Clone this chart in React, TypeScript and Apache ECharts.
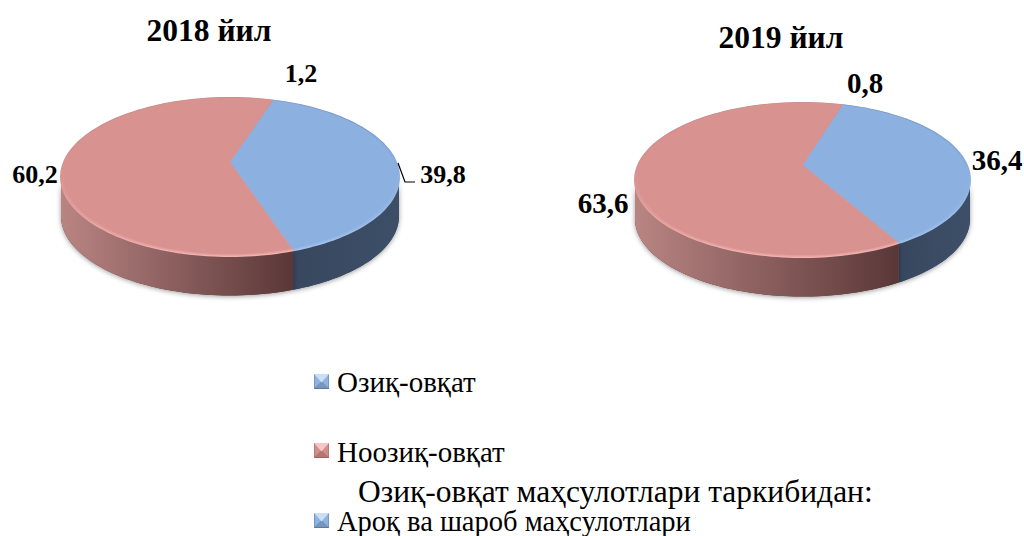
import React, { useEffect, useRef } from "react";
import * as echarts from "echarts";

const categories = ["Озиқ-овқат", "Ноозиқ-овқат", "Ароқ ва шароб маҳсулотлари"];
const values2018 = [39.8, 60.2, 1.2];
const values2019 = [36.4, 63.6, 0.8];
const titles = ["2018 йил", "2019 йил"];
const legendHeading = "Озиқ-овқат маҳсулотлари таркибидан:";

const SERIF = '"Liberation Serif", "Times New Roman", serif';

type Pie = {
  cx: number; cy: number; rx: number; ry: number; apexDy: number; depth: number; startDeg: number;
  labels: { x: number; y: number; size: number }[];
  leader?: number[][];
};

const pies: Pie[] = [
  {
    cx: 230, cy: 177, rx: 170, ry: 80, apexDy: -15, depth: 39, startDeg: 14.8,
    labels: [{ x: 443, y: 174, size: 26 }, { x: 35, y: 174, size: 26 }, { x: 301, y: 73, size: 26 }],
    leader: [[398, 163], [405, 182], [415, 182]],
  },
  {
    cx: 802.5, cy: 180, rx: 168.5, ry: 78, apexDy: -15, depth: 39, startDeg: 13.9,
    labels: [{ x: 997, y: 160, size: 29 }, { x: 603, y: 203, size: 29 }, { x: 865, y: 83, size: 29 }],
  },
];

const palette = [
  { top: "#8CB0E0", rimTop: "#6E8BB4", rimBottom: "#A9C6EE", side: ["#3D4F68", "#37475E"] },
  { top: "#D89391", rimTop: "#C48886", rimBottom: "#F4B2B1", side: ["#B98583", "#5A3737"] },
];

const rad = (d: number) => (d * Math.PI) / 180;

function arcPoints(p: Pie, a0: number, a1: number, inset = 0, dy = 0) {
  const pts: number[][] = [];
  const n = Math.max(2, Math.ceil(Math.abs(a1 - a0) / 2));
  for (let i = 0; i <= n; i++) {
    const a = rad(a0 + ((a1 - a0) * i) / n);
    pts.push([p.cx + (p.rx - inset) * Math.sin(a), p.cy + dy - (p.ry - inset * (p.ry / p.rx)) * Math.cos(a)]);
  }
  return pts;
}

function fmt(v: number) {
  return String(v).replace(".", ",");
}

function makeRenderItem(p: Pie, values: number[]) {
  return (params: any, api: any) => {
    const idx = params.dataIndex;
    const value = api.value(0);
    const children: any[] = [];
    const lab = p.labels[idx];

    if (idx < 2) {
      const total = values[0] + values[1];
      const before = idx === 0 ? 0 : values[0];
      const a0 = p.startDeg + (before / total) * 360;
      const a1 = a0 + (value / total) * 360;
      const apex = [p.cx, p.cy + p.apexDy];
      const col = palette[idx];

      const s0 = Math.max(a0, 90);
      const s1 = Math.min(a1, 270);
      if (s1 > s0) {
        const front = arcPoints(p, s0, s1, 1);
        const back = arcPoints(p, s0, s1, 1, p.depth).reverse();
        const xs = front.map((q) => q[0]);
        const minX = Math.min(...xs);
        const maxX = Math.max(...xs);
        children.push({
          type: "polygon",
          shape: { points: front.concat(back) },
          style: { fill: col.side[1], shadowBlur: 5, shadowColor: "rgba(0,0,0,0.4)", shadowOffsetY: 1 },
          silent: true,
        });
        children.push({
          type: "polygon",
          shape: { points: front.concat(back) },
          style: {
            fill: new echarts.graphic.LinearGradient(
              idx === 1 ? minX : maxX, 0, idx === 1 ? maxX : minX, 0,
              [{ offset: 0, color: col.side[0] }, { offset: 1, color: col.side[1] }],
              true
            ),
          },
          silent: true,
        });
      }

      const rim = new echarts.graphic.LinearGradient(
        0, p.cy - p.ry, 0, p.cy + p.ry,
        [{ offset: 0, color: col.rimTop }, { offset: 0.45, color: col.top }, { offset: 1, color: col.rimBottom }],
        true
      );
      children.push({
        type: "polygon",
        shape: { points: [apex, ...arcPoints(p, a0, a1)] },
        style: { fill: rim },
        silent: true,
      });
      children.push({
        type: "polygon",
        shape: { points: [apex, ...arcPoints(p, a0, a1, 1.5, -0.5)] },
        style: { fill: col.top, opacity: 0.5 },
        silent: true,
      });
      children.push({
        type: "polygon",
        shape: { points: [apex, ...arcPoints(p, a0, a1, 3.5, -1)] },
        style: { fill: col.top },
        silent: true,
      });
    }

    children.push({
      type: "text",
      x: lab.x,
      y: lab.y,
      silent: true,
      style: {
        text: fmt(value),
        font: `bold ${lab.size}px ${SERIF}`,
        fill: "#000",
        textAlign: "center",
        textVerticalAlign: "middle",
      },
    });
    if (idx === 0 && p.leader) {
      children.push({
        type: "polyline",
        shape: { points: p.leader },
        style: { stroke: "#000", lineWidth: 1.2, fill: "none" },
        silent: true,
      });
    }
    return { type: "group", children };
  };
}

function marker(x: number, y: number, s: number, c: string[]) {
  const m = s / 2;
  const tri = (pts: number[][], fill: string) => ({ type: "polygon", shape: { points: pts.map((q) => [x + q[0], y + q[1]]) }, style: { fill }, silent: true });
  return [
    tri([[0, 0], [s, 0], [s, s], [0, s]], c[3]),
    tri([[0.5, 0], [m, m], [0.5, s - 0.5]], c[1]),
    tri([[s - 0.5, 0], [m, m], [s - 0.5, s - 0.5]], c[1]),
    tri([[0.5, s - 1], [s - 0.5, s - 1], [m, m]], c[2]),
    tri([[0, 0], [s, 0], [m, m + 1]], c[0]),
  ];
}

const blueMarker = ["#C9DEF7", "#8FB3DE", "#7796BE", "#5F7A9F"];
const redMarker = ["#F7C7C5", "#D08E8C", "#B57775", "#A06462"];

function legendText(text: string, x: number, y: number, size: number) {
  return {
    type: "text",
    x,
    y,
    silent: true,
    style: { text, font: `${size}px ${SERIF}`, fill: "#000", textAlign: "left", textVerticalAlign: "middle" },
  };
}

export default function App() {
  const ref = useRef<HTMLDivElement>(null);
  useEffect(() => {
    document.body.style.margin = "0";
    const chart = echarts.init(ref.current!, undefined, { renderer: "svg" });
    const seriesValues = [values2018, values2019];
    chart.setOption({
      animation: false,
      backgroundColor: "#fff",
      title: [
        { text: titles[0], left: 204, top: 25, textAlign: "center", textVerticalAlign: "middle", textStyle: { fontFamily: SERIF, fontWeight: "bold", fontSize: 31.5, color: "#000" } },
        { text: titles[1], left: 776, top: 32, textAlign: "center", textVerticalAlign: "middle", textStyle: { fontFamily: SERIF, fontWeight: "bold", fontSize: 31.5, color: "#000" } },
      ],
      graphic: [
        ...marker(314, 374, 15, blueMarker),
        ...marker(314, 443, 15, redMarker),
        ...marker(314, 513, 15, blueMarker),
        legendText(categories[0], 337, 382, 29),
        legendText(categories[1], 337, 452, 29),
        legendText(legendHeading, 358, 491, 31.5),
        legendText(categories[2], 337, 521.5, 28.5),
      ],
      series: pies.map((p, i) => ({
        type: "custom",
        coordinateSystem: "none",
        name: titles[i],
        silent: true,
        renderItem: makeRenderItem(p, seriesValues[i]),
        data: seriesValues[i].map((v) => [v]),
      })),
    });
    return () => chart.dispose();
  }, []);
  return <div ref={ref} style={{ position: "absolute", left: 0, top: 0, width: 1024, height: 536 }} />;
}
